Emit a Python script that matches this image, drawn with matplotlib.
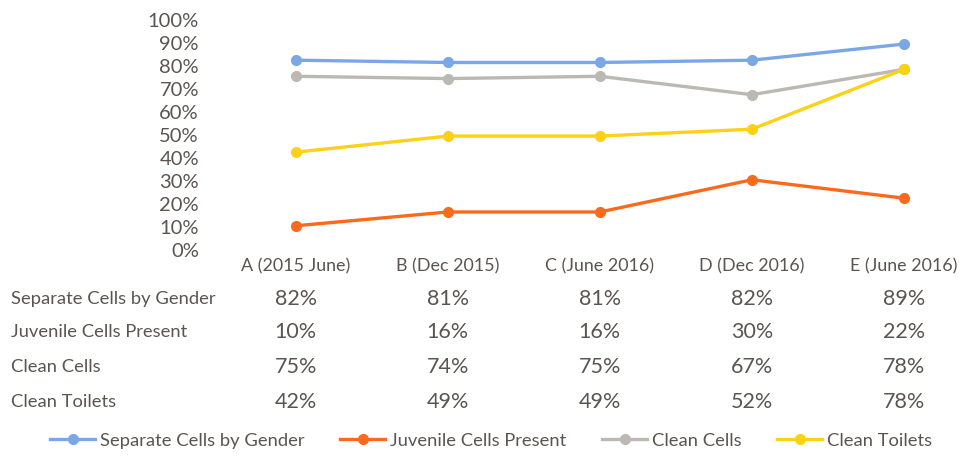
import matplotlib.pyplot as plt
import matplotlib.transforms as mtransforms
import numpy as np

categories = ["A (2015 June)", "B (Dec 2015)", "C (June 2016)", "D (Dec 2016)", "E (June 2016)"]
series_names = ["Separate Cells by Gender", "Juvenile Cells Present", "Clean Cells", "Clean Toilets"]
separate_cells = [82, 81, 81, 82, 89]
juvenile_cells = [10, 16, 16, 30, 22]
clean_cells = [75, 74, 75, 67, 78]
clean_toilets = [42, 49, 49, 52, 78]
colors = ["#7ba7e6", "#fb6a1c", "#bcb9b4", "#fcd116"]

plt.rcParams['font.family'] = ['Lato', 'DejaVu Sans']
txt_color = "#5a5552"

fig = plt.figure(figsize=(9.64, 4.6), dpi=100)
ax = fig.add_axes([0.228, 0.457, 0.768, 0.500])

x = np.arange(len(categories))
all_series = [separate_cells, juvenile_cells, clean_cells, clean_toilets]
for vals, name, c in zip(all_series, series_names, colors):
    ax.plot(x, vals, color=c, lw=2.4, marker='o', ms=7, label=name)

ax.set_xlim(-0.5, 4.37)
ax.set_ylim(0, 100)
ax.set_yticks(np.arange(0, 101, 10))
ax.set_yticklabels([f"{v}%" for v in range(0, 101, 10)], fontsize=14.5, color=txt_color)
ax.set_xticks([])
for s in ax.spines.values():
    s.set_visible(False)
ax.tick_params(axis='y', length=0, pad=15)

# table below the chart
trans = mtransforms.blended_transform_factory(ax.transData, fig.transFigure)
cat_y = 1 - 266 / 460
for i, cat in enumerate(categories):
    fig.text(i, cat_y, cat, transform=trans, ha='center', va='center', fontsize=12.9, color=txt_color)

row_ys = [299, 332, 367, 402]
for vals, name, ry in zip(all_series, series_names, row_ys):
    fy = 1 - ry / 460
    fig.text(0.011, fy, name, ha='left', va='center', fontsize=13.2, color=txt_color)
    for i, v in enumerate(vals):
        fig.text(i, fy, f"{v}%", transform=trans, ha='center', va='center', fontsize=15.5, color=txt_color)

fig.legend(loc='center left', bbox_to_anchor=(0.052, 1 - 441 / 460), ncol=4, frameon=False,
           fontsize=13.2, labelcolor=txt_color, handlelength=2.45, handletextpad=0.27,
           columnspacing=1.95, borderaxespad=0, borderpad=0)

fig.savefig("out.png", dpi=100)
